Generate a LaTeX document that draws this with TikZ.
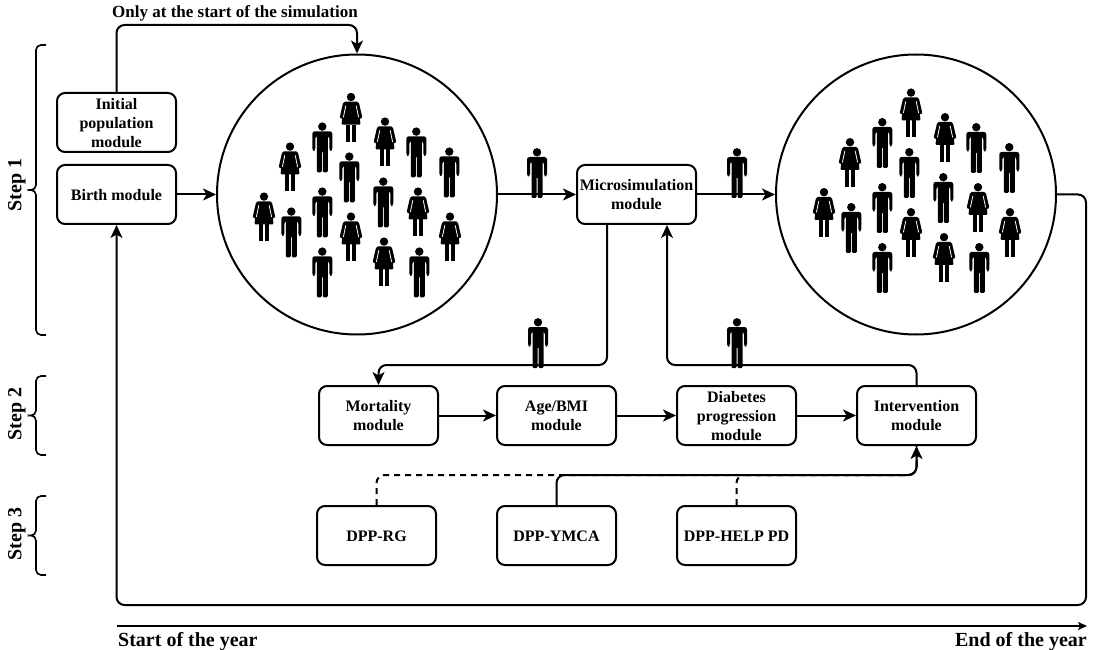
\documentclass[tikz,border=0pt]{standalone}
\usepackage{fontspec}
\setmainfont{Liberation Serif}
\usetikzlibrary{arrows.meta}
\newcommand\modtext[1]{\raisebox{-2pt}[\height][\depth]{\begin{tabular}{@{}c@{}}#1\end{tabular}}}
\newcommand\manfig[2]{\begin{scope}[shift={(#1,#2)}]
\fill (0,4.3) circle (4.2);
\fill[rounded corners=2.5] (-10,28.5) -- (-10,9) -- (10,9) -- (10,28.5) -- (7,28.5) -- (7,14) -- (-7,14) -- (-7,28.5) -- cycle;
\fill[rounded corners=1.2] (-5.5,10) -- (5.5,10) -- (5.5,50) -- (0.5,50) -- (0.5,29) -- (-0.5,29) -- (-0.5,50) -- (-5.5,50) -- cycle;
\end{scope}}
\newcommand\womanfig[2]{\begin{scope}[shift={(#1,#2)}]
\fill (0,4.3) circle (4.2);
\draw[line width=3.2,line cap=round] (-6.5,11) -- (-9.6,24.5);
\draw[line width=3.2,line cap=round] (6.5,11) -- (9.6,24.5);
\fill[rounded corners=1] (-7,9) -- (7,9) -- (9.5,32) -- (-9.5,32) -- cycle;
\draw[white,line width=0.8] (-5.2,13) -- (-7.6,24.5);
\draw[white,line width=0.8] (5.2,13) -- (7.6,24.5);
\fill (-4.6,32) rectangle (-0.8,49);
\fill (0.8,32) rectangle (4.6,49);
\end{scope}}
\newcommand\crowd{%
\womanfig{351}{92.7}\manfig{322.3}{122.3}\womanfig{385}{117.3}\manfig{416.3}{127.3}
\manfig{449.3}{147.3}\womanfig{290}{142.3}\manfig{349.3}{152.3}\manfig{383.3}{177.3}
\womanfig{418}{187.3}\manfig{322.3}{187.3}\womanfig{264}{192.3}\manfig{291.3}{207.3}
\womanfig{351}{212.3}\womanfig{450}{212.3}\womanfig{384}{237.3}\manfig{322.3}{247.3}\manfig{419.3}{247.3}}
\tikzset{
  every node/.style={font=\fontsize{16}{19}\selectfont\bfseries},
  modbox/.style={draw,line width=2,rounded corners=8,minimum width=119,minimum height=59,inner sep=0},
  bubble/.style={draw,circle,line width=2,minimum size=280,inner sep=0},
  conn/.style={line width=2,rounded corners=8,-{Stealth[length=13,width=12,inset=3.5]}},
  dashline/.style={line width=2,rounded corners=8,dashed,dash pattern=on 6pt off 5pt},
  bracepath/.style={line width=1.6,rounded corners=5},
  steplabel/.style={rotate=90,font=\fontsize{20}{24}\selectfont\bfseries},
  yearlabel/.style={font=\fontsize{20}{24}\selectfont\bfseries}
}
\begin{document}
\begin{tikzpicture}[x=1pt,y=-1pt]
\useasboundingbox (0,0) rectangle (1096,650);
\fill[white] (0,0) rectangle (1096,650);
% circles
\node[bubble] (c1) at (357,194.5) {};
\node[bubble] (c2) at (916,194.5) {};
\crowd
\begin{scope}[shift={(560,-4.4)}]\crowd\end{scope}
\manfig{537}{148}\manfig{737}{148}\manfig{538}{318}\manfig{737}{318}
% modules
\node[modbox] (init) at (116.5,122.5) {\modtext{Initial\\population\\module}};
\node[modbox] (birth) at (116.5,194.5) {\modtext{Birth module}};
\node[modbox] (micro) at (636.5,194.5) {\modtext{Microsimulation\\module}};
\node[modbox] (mort) at (378.5,415.5) {\modtext{Mortality\\module}};
\node[modbox] (age) at (556.5,415.5) {\modtext{Age/BMI\\module}};
\node[modbox] (diab) at (736.5,415.5) {\modtext{Diabetes\\progression\\module}};
\node[modbox] (interv) at (916.5,415.5) {\modtext{Intervention\\module}};
\node[modbox] (rg) at (376.5,535.5) {\modtext{DPP-RG}};
\node[modbox] (ymca) at (556.5,535.5) {\modtext{DPP-YMCA}};
\node[modbox] (help) at (736.5,535.5) {\modtext{DPP-HELP PD}};
% labels
\node[anchor=base west,inner sep=0,font=\fontsize{17}{19}\selectfont\bfseries] (only) at (112,18) {Only at the start of the simulation};
\node[steplabel] (s1) at (17,185) {Step 1};
\node[steplabel] (s2) at (17,414) {Step 2};
\node[steplabel] (s3) at (17,534) {Step 3};
\node[yearlabel,anchor=base west,inner sep=0] (start) at (118,646) {Start of the year};
\node[yearlabel,anchor=base east,inner sep=0] (end) at (1087,646) {End of the year};
% routing points
\coordinate (a1) at (116.5,25);
\coordinate (a2) at (357,25);
\coordinate (b1) at (1086,194.5);
\coordinate (b2) at (1086,605);
\coordinate (b3) at (116.5,605);
\coordinate (m1) at (607,365);
\coordinate (m2) at (378.5,365);
\coordinate (i1) at (916.5,365);
\coordinate (i2) at (667,365);
\coordinate (d1) at (376.5,475);
\coordinate (d2) at (556.5,475);
\coordinate (d3) at (736.5,475);
\coordinate (d4) at (916.5,475);
\coordinate (y1) at (117,626);
\coordinate (y2) at (1087,626);
% connectors
\draw[conn] (init.north) -- (a1) -- (a2) -- (c1.north);
\draw[conn] (birth.east) -- (c1.west);
\draw[conn] (c1.east) -- (micro.west);
\draw[conn] (micro.east) -- (c2.west);
\draw[conn] (c2.east) -- (b1) -- (b2) -- (b3) -- (birth.south);
\draw[conn] (m1 |- micro.south) -- (m1) -- (m2) -- (mort.north);
\draw[conn] (mort.east) -- (age.west);
\draw[conn] (age.east) -- (diab.west);
\draw[conn] (diab.east) -- (interv.west);
\draw[conn] (interv.north) -- (i1) -- (i2) -- (i2 |- micro.south);
\draw[conn] (ymca.north) -- (d2) -- (d4) -- (interv.south);
\draw[dashline] (rg.north) -- (d1) -- (d4) -- (interv.south);
\draw[dashline] (help.north) -- (d3) -- (d4) -- (interv.south);
\draw[line width=1.6,-{Stealth[length=9,width=8,inset=2]}] (y1) -- (y2);
% braces
\draw[bracepath] (46,45) -- (36,45) -- (36,190) -- (27,190) -- (36,190) -- (36,335) -- (46,335);
\draw[bracepath] (46,376) -- (36,376) -- (36,415.5) -- (27,415.5) -- (36,415.5) -- (36,455) -- (46,455);
\draw[bracepath] (46,496) -- (36,496) -- (36,535.5) -- (27,535.5) -- (36,535.5) -- (36,575) -- (46,575);
\end{tikzpicture}
\end{document}
